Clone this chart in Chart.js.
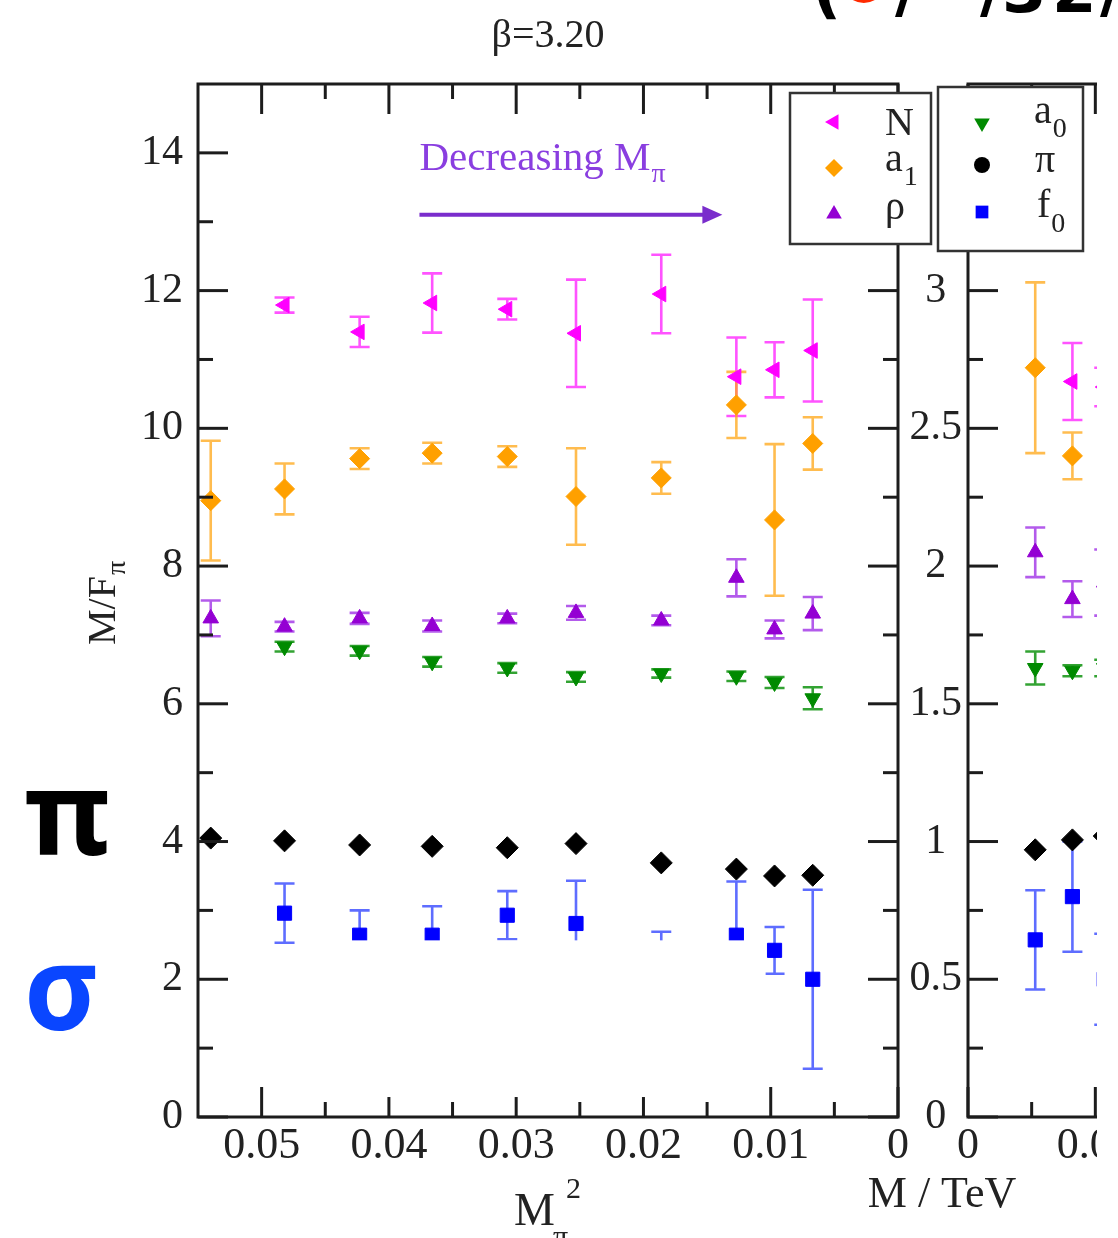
<!DOCTYPE html>
<html>
<head>
<meta charset="utf-8">
<script src="https://cdn.jsdelivr.net/npm/chart.js@4.4.1/dist/chart.umd.min.js"></script>
<style>
html,body{margin:0;padding:0;background:#fff;width:1118px;height:1238px;overflow:hidden;}
#c1{position:absolute;left:0;top:0;z-index:1;}
#clip{position:absolute;left:0;top:0;width:1097px;height:1238px;overflow:hidden;z-index:2;}
#c2{position:absolute;left:760px;top:0;}
</style>
</head>
<body>
<canvas id="c1" width="1118" height="1238"></canvas>
<div id="clip"><canvas id="c2" width="650" height="1238"></canvas></div>
<script>
// ---------------- data ----------------
// left panel: x = M_pi^2, y = M/F_pi
const mainX      = [0.0540, 0.0482, 0.0423, 0.0366, 0.0307, 0.0253, 0.0186, 0.0127, 0.0097, 0.0067];
const nucleon    = [null, 11.79, 11.40, 11.82, 11.73, 11.38, 11.95, 10.75, 10.85, 11.13];
const nucleonErr = [null, 0.11, 0.22, 0.43, 0.15, 0.78, 0.57, 0.57, 0.40, 0.74];
const a1         = [8.95, 9.12, 9.56, 9.64, 9.59, 9.01, 9.28, 10.34, 8.67, 9.78];
const a1Err      = [0.87, 0.37, 0.15, 0.15, 0.15, 0.70, 0.23, 0.48, 1.10, 0.38];
const rho        = [7.24, 7.12, 7.24, 7.13, 7.24, 7.32, 7.21, 7.83, 7.08, 7.31];
const rhoErr     = [0.26, 0.07, 0.08, 0.08, 0.07, 0.10, 0.07, 0.27, 0.13, 0.24];
const a0         = [null, 6.83, 6.77, 6.61, 6.52, 6.39, 6.44, 6.40, 6.31, 6.08];
const a0Err      = [null, 0.07, 0.07, 0.07, 0.07, 0.07, 0.06, 0.07, 0.08, 0.16];
const pion       = [4.05, 4.01, 3.95, 3.93, 3.91, 3.97, 3.69, 3.60, 3.50, 3.51];
const pionErr    = [0.03, 0.02, 0.02, 0.02, 0.02, 0.02, 0.02, 0.02, 0.02, 0.02];
const f0         = [null, 2.96, 2.64, 2.64, 2.93, 2.81, 2.30, 2.64, 2.42, 2.00];
const f0Err      = [null, 0.43, 0.36, 0.42, 0.35, 0.62, 0.39, 0.78, 0.34, 1.30];

// right panel: masses in TeV
const tevX          = [0.0264, 0.0410, 0.0535];
const nucleonTeV    = [null, 2.67, 2.65];
const nucleonTeVErr = [null, 0.14, 0.07];
const a1TeV         = [2.72, 2.40, null];
const a1TeVErr      = [0.31, 0.085, null];
const rhoTeV        = [2.05, 1.88, 1.94];
const rhoTeVErr     = [0.09, 0.065, 0.12];
const a0TeV         = [1.63, 1.62, 1.63];
const a0TeVErr      = [0.06, 0.02, 0.03];
const pionTeV       = [0.97, 1.006, 1.02];
const pionTeVErr    = [0.005, 0.005, 0.005];
const f0TeV         = [0.643, 0.80, 0.50];
const f0TeVErr      = [0.18, 0.20, 0.165];

// ticks
const mainXTicks      = [0.05, 0.04, 0.03, 0.02, 0.01, 0];
const mainXTickLabels = ['0.05', '0.04', '0.03', '0.02', '0.01', '0'];
const mainXMinor      = [0.045, 0.035, 0.025, 0.015, 0.005];
const mainYTicks      = [0, 2, 4, 6, 8, 10, 12, 14];
const mainYTickLabels = ['0', '2', '4', '6', '8', '10', '12', '14'];
const mainYMinor      = [1, 3, 5, 7, 9, 11, 13];
const tevXTicks       = [0, 0.05, 0.1, 0.15];
const tevXTickLabels  = ['0', '0.05', '0.1', '0.15'];
const tevXMinor       = [0.025, 0.075, 0.125];
const tevYTicks       = [0, 0.5, 1, 1.5, 2, 2.5, 3, 3.5];
const tevYTickLabels  = ['0', '0.5', '1', '1.5', '2', '2.5', '3', ''];
const tevYMinor       = [0.25, 0.75, 1.25, 1.75, 2.25, 2.75, 3.25];

// ---------------- styles ----------------
const STY = {
  N:   {label: 'N',  color: '#ff00ff', err: 'rgba(255,40,255,0.8)',  style: 'triangle', rot: -90, r: 9},
  a1:  {label: 'a1', color: '#ffa000', err: 'rgba(255,165,20,0.75)', style: 'rectRot',  rot: 0,   r: 10},
  rho: {label: 'ρ',  color: '#9400d3', err: 'rgba(160,50,230,0.8)',  style: 'triangle', rot: 0,   r: 9},
  a0:  {label: 'a0', color: '#008a00', err: 'rgba(0,140,0,0.8)',     style: 'triangle', rot: 180, r: 9},
  pi:  {label: 'π',  color: '#000000', err: 'rgba(0,0,0,0.8)',       style: 'rectRot',  rot: 0,   r: 11},
  f0:  {label: 'f0', color: '#0000ff', err: 'rgba(40,60,255,0.75)',  style: 'rect',     rot: 0,   r: 10}
};
const SERIF = '"Liberation Serif", "Times New Roman", serif';
const AXIS = '#1c1c1c';

function buildSets(xs, list) {
  return list.map(([key, vals, errs]) => {
    const s = STY[key];
    const data = [];
    xs.forEach((x, i) => { if (vals[i] != null) data.push({x: x, y: vals[i], e: errs[i]}); });
    return {
      label: s.label, data: data, errColor: s.err,
      pointStyle: s.style, pointRotation: s.rot, pointRadius: s.r,
      backgroundColor: s.color, borderColor: s.color, borderWidth: 1, showLine: false
    };
  });
}

// error bars drawn from the library's scales
const errorBars = {
  id: 'errorBars',
  beforeDatasetsDraw(chart) {
    const ctx = chart.ctx, ys = chart.scales.y;
    chart.data.datasets.forEach((ds, di) => {
      const meta = chart.getDatasetMeta(di);
      ds.data.forEach((d, i) => {
        if (!d.e) return;
        const p = meta.data[i];
        const yt = ys.getPixelForValue(d.y + d.e), yb = ys.getPixelForValue(d.y - d.e);
        if (yb - yt < 6) return;
        ctx.save();
        ctx.strokeStyle = ds.errColor; ctx.lineWidth = 2.6;
        ctx.beginPath();
        ctx.moveTo(p.x, yt); ctx.lineTo(p.x, yb);
        ctx.moveTo(p.x - 10, yt); ctx.lineTo(p.x + 10, yt);
        ctx.moveTo(p.x - 10, yb); ctx.lineTo(p.x + 10, yb);
        ctx.stroke();
        ctx.restore();
      });
    });
  }
};

function line(ctx, x1, y1, x2, y2) { ctx.beginPath(); ctx.moveTo(x1, y1); ctx.lineTo(x2, y2); ctx.stroke(); }

// frame with inward ticks on all four sides
const framePlugin = {
  id: 'frame',
  afterDraw(chart, args, o) {
    const ctx = chart.ctx, a = chart.chartArea, x = chart.scales.x, y = chart.scales.y;
    ctx.save();
    ctx.strokeStyle = AXIS; ctx.lineWidth = 3; ctx.lineCap = 'butt';
    ctx.strokeRect(a.left, a.top, a.right - a.left, a.bottom - a.top);
    const tx = (vals, len) => vals.forEach(v => { const p = x.getPixelForValue(v);
      line(ctx, p, a.bottom, p, a.bottom - len); line(ctx, p, a.top, p, a.top + len); });
    const ty = (vals, len) => vals.forEach(v => { const p = y.getPixelForValue(v);
      line(ctx, a.left, p, a.left + len, p); line(ctx, a.right, p, a.right - len, p); });
    tx(o.xMajor, 30); tx(o.xMinor, 15); ty(o.yMajor, 30); ty(o.yMinor, 15);
    ctx.restore();
  }
};

function textSub(ctx, main, sub, x, y, size, subSize, drop) {
  ctx.font = size + 'px ' + SERIF;
  ctx.fillText(main, x, y);
  const w = ctx.measureText(main).width;
  ctx.font = subSize + 'px ' + SERIF;
  ctx.fillText(sub, x + w + 1, y + drop);
}

// decorations of the left chart (titles, annotation, cover patch, side symbols)
const mainDeco = {
  id: 'mainDeco',
  afterDraw(chart) {
    const ctx = chart.ctx, xs = chart.scales.x, ys = chart.scales.y;
    ctx.save();
    // white patch present in the source picture
    const px1 = xs.getPixelForValue(0.0469), px2 = xs.getPixelForValue(0.0104);
    const py1 = ys.getPixelForValue(2.565), py2 = ys.getPixelForValue(0.29);
    ctx.fillStyle = '#fff';
    ctx.fillRect(px1, py1, px2 - px1, py2 - py1);

    ctx.fillStyle = '#222'; ctx.textBaseline = 'alphabetic';
    // title
    ctx.font = '40px ' + SERIF; ctx.textAlign = 'center';
    ctx.fillText('β=3.20', (chart.chartArea.left + chart.chartArea.right) / 2, 47);
    // M / TeV
    ctx.font = '44px ' + SERIF;
    ctx.fillText('M / TeV', 942, 1207);
    ctx.textAlign = 'left';
    // x title M_pi^2
    ctx.font = '46px ' + SERIF;
    ctx.fillText('M', 514, 1225);
    ctx.font = '30px ' + SERIF;
    ctx.fillText('π', 553, 1246);
    ctx.fillText('2', 566, 1198);
    // y title M/F_pi
    ctx.save();
    ctx.translate(115, 645); ctx.rotate(-Math.PI / 2);
    textSub(ctx, 'M/F', 'π', 0, 0, 40, 28, 10);
    ctx.restore();
    // annotation
    const ax1 = xs.getPixelForValue(0.0376), ax2 = xs.getPixelForValue(0.0138);
    const ay = ys.getPixelForValue(13.1), ly = ys.getPixelForValue(13.75);
    ctx.fillStyle = '#8a3ee0';
    textSub(ctx, 'Decreasing M', 'π', ax1, ly, 41, 28, 12);
    ctx.strokeStyle = '#7a2dcc'; ctx.fillStyle = '#7a2dcc'; ctx.lineWidth = 4;
    line(ctx, ax1, ay, ax2 - 16, ay);
    ctx.beginPath(); ctx.moveTo(ax2, ay); ctx.lineTo(ax2 - 20, ay - 9); ctx.lineTo(ax2 - 20, ay + 9); ctx.closePath(); ctx.fill();
    // big side symbols
    ctx.font = 'bold 116px "Noto Sans", "DejaVu Sans", sans-serif';
    ctx.fillStyle = '#000'; ctx.fillText('π', 24, 855);
    ctx.fillStyle = '#0a46ff'; ctx.fillText('σ', 24, 1030);
    // partially visible heading at the very top
    ctx.font = 'bold 64px "DejaVu Sans", sans-serif';
    ctx.fillStyle = '#000';
    ctx.fillText('(', 812, 11);
    ctx.fillText('/', 895, 11);
    ctx.fillText('/', 980, 11);
    ctx.fillText('3', 1002, 12);
    ctx.fillText('2', 1052, 12);
    ctx.fillText('/', 1100, 11);
    ctx.fillStyle = '#ff2a00'; ctx.fillText('●', 836, -5);
    ctx.fillStyle = '#1ec81e'; ctx.fillText('■', 922, -8);
    ctx.restore();
  }
};

// legend boxes (drawn on the right chart so they sit on top of both panels)
const legendPlugin = {
  id: 'legendBoxes',
  afterDraw(chart) {
    const ctx = chart.ctx, off = 760;
    ctx.save();
    const box = (x1, y1, x2, y2) => {
      ctx.fillStyle = '#fff'; ctx.fillRect(x1 - off, y1, x2 - x1, y2 - y1);
      ctx.strokeStyle = '#333'; ctx.lineWidth = 2.5; ctx.strokeRect(x1 - off, y1, x2 - x1, y2 - y1);
    };
    box(790, 93, 931, 244);
    box(938, 87, 1083, 251);
    const mark = (key, x, y) => {
      const s = STY[key];
      ctx.fillStyle = s.color; ctx.strokeStyle = s.color;
      const style = key === 'pi' ? 'circle' : s.style;
      Chart.helpers.drawPoint(ctx, {pointStyle: style, rotation: s.rot, radius: key === 'pi' ? 8 : 9, borderWidth: 0}, x - off, y);
    };
    mark('N', 834, 122); mark('a1', 834, 168); mark('rho', 834, 214);
    mark('a0', 982, 123); mark('pi', 982, 165); mark('f0', 982, 212);
    ctx.fillStyle = '#222'; ctx.textAlign = 'left'; ctx.textBaseline = 'alphabetic';
    ctx.font = '40px ' + SERIF;
    ctx.fillText('N', 885 - off, 135);
    textSub(ctx, 'a', '1', 885 - off, 171, 40, 28, 14);
    ctx.font = '40px ' + SERIF; ctx.fillText('ρ', 885 - off, 219);
    textSub(ctx, 'a', '0', 1034 - off, 123, 40, 28, 14);
    ctx.font = '40px ' + SERIF; ctx.fillText('π', 1035 - off, 172);
    textSub(ctx, 'f', '0', 1037 - off, 217, 40, 28, 15);
    ctx.restore();
  }
};

function setTicks(vals) { return s => { s.ticks = vals.map(v => ({value: v})); }; }

function axis(opts) {
  return Object.assign({
    type: 'linear',
    grid: {display: false, drawTicks: false},
    border: {display: false}
  }, opts);
}

const mainSets = buildSets(mainX, [
  ['N', nucleon, nucleonErr], ['a1', a1, a1Err], ['rho', rho, rhoErr],
  ['a0', a0, a0Err], ['pi', pion, pionErr], ['f0', f0, f0Err]
]);
const tevSets = buildSets(tevX, [
  ['N', nucleonTeV, nucleonTeVErr], ['a1', a1TeV, a1TeVErr], ['rho', rhoTeV, rhoTeVErr],
  ['a0', a0TeV, a0TeVErr], ['pi', pionTeV, pionTeVErr], ['f0', f0TeV, f0TeVErr]
]);

new Chart(document.getElementById('c1'), {
  type: 'scatter',
  data: {datasets: mainSets},
  options: {
    responsive: false, animation: false, events: [],
    layout: {padding: {left: 0, right: 220, top: 84, bottom: 0}},
    plugins: {
      legend: {display: false}, tooltip: {enabled: false},
      frame: {xMajor: mainXTicks, xMinor: mainXMinor, yMajor: mainYTicks, yMinor: mainYMinor}
    },
    scales: {
      x: axis({
        reverse: true, min: 0, max: 0.055,
        afterBuildTicks: setTicks(mainXTicks),
        afterFit: s => { s.height = 121; },
        ticks: {font: {family: SERIF, size: 44}, color: '#222', padding: 3, maxRotation: 0, autoSkip: false,
                callback: (v, i) => mainXTickLabels[i]}
      }),
      y: axis({
        min: 0, max: 15,
        afterBuildTicks: setTicks(mainYTicks),
        afterFit: s => { s.width = 198; },
        ticks: {font: {family: SERIF, size: 42}, color: '#222', padding: 15, autoSkip: false,
                callback: (v, i) => mainYTickLabels[i]}
      })
    }
  },
  plugins: [errorBars, framePlugin, mainDeco]
});

new Chart(document.getElementById('c2'), {
  type: 'scatter',
  data: {datasets: tevSets},
  options: {
    responsive: false, animation: false, events: [],
    layout: {padding: {left: 0, right: 60, top: 84, bottom: 0}},
    plugins: {
      legend: {display: false}, tooltip: {enabled: false},
      frame: {xMajor: tevXTicks, xMinor: tevXMinor, yMajor: tevYTicks, yMinor: tevYMinor}
    },
    scales: {
      x: axis({
        min: 0, max: 0.15,
        afterBuildTicks: setTicks(tevXTicks),
        afterFit: s => { s.height = 121; },
        ticks: {font: {family: SERIF, size: 44}, color: '#222', padding: 3, maxRotation: 0, autoSkip: false,
                callback: (v, i) => tevXTickLabels[i]}
      }),
      y: axis({
        min: 0, max: 3.75,
        afterBuildTicks: setTicks(tevYTicks),
        afterFit: s => { s.width = 208; },
        ticks: {font: {family: SERIF, size: 42}, color: '#222', padding: 6, crossAlign: 'center', autoSkip: false,
                callback: (v, i) => tevYTickLabels[i]}
      })
    }
  },
  plugins: [errorBars, framePlugin, legendPlugin]
});
</script>
</body>
</html>
